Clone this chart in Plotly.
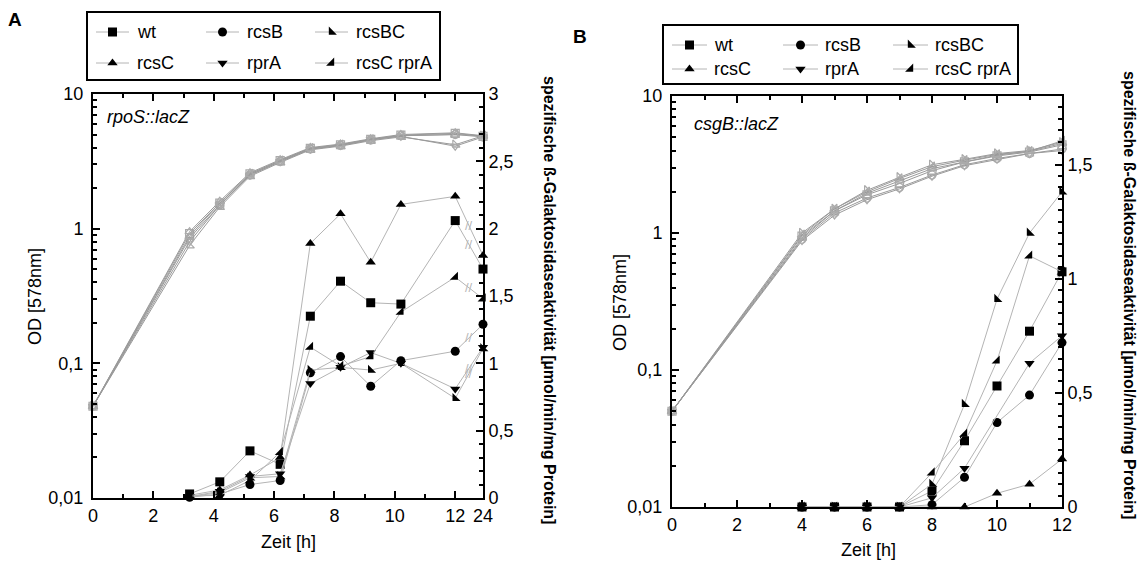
import plotly.graph_objects as go

FONT = "Liberation Sans, Arial, sans-serif"

strains = ["wt", "rcsB", "rcsBC", "rcsC", "rprA", "rcsC rprA"]
symbols_filled = ["square", "circle", "triangle-sw", "triangle-up", "triangle-down", "triangle-se"]
symbols_open = ["square-open", "circle-open", "triangle-sw-open", "triangle-up-open", "triangle-down-open", "triangle-se-open"]

# ---------------- Panel A (rpoS::lacZ) ----------------
A_od_time = [0, 3.2, 4.2, 5.2, 6.2, 7.2, 8.2, 9.2, 10.2, 12, 24]
A_od_wt = [0.048, 0.92, 1.55, 2.55, 3.2, 3.95, 4.2, 4.6, 4.95, 5.1, 4.85]
A_od_rcsB = [0.048, 0.85, 1.5, 2.5, 3.15, 3.9, 4.15, 4.55, 4.9, 5.0, 4.8]
A_od_rcsBC = [0.048, 0.75, 1.45, 2.45, 3.1, 3.85, 4.1, 4.5, 4.8, 4.2, 4.9]
A_od_rcsC = [0.048, 0.95, 1.6, 2.6, 3.25, 4.0, 4.25, 4.65, 5.0, 5.15, 4.9]
A_od_rprA = [0.048, 0.8, 1.5, 2.5, 3.15, 3.9, 4.15, 4.6, 4.85, 4.1, 4.8]
A_od_rcsCrprA = [0.048, 0.88, 1.55, 2.55, 3.2, 3.95, 4.2, 4.6, 4.9, 5.0, 4.9]

A_act_time = [3.2, 4.2, 5.2, 6.2, 7.2, 8.2, 9.2, 10.2, 12, 24]
A_act_wt = [0.03, 0.12, 0.35, 0.25, 1.35, 1.61, 1.45, 1.44, 2.06, 1.70]
A_act_rcsB = [0.005, 0.03, 0.10, 0.13, 0.93, 1.05, 0.83, 1.02, 1.09, 1.29]
A_act_rcsBC = [0.01, 0.04, 0.15, 0.16, 0.95, 0.97, 0.95, 1.0, 0.74, 1.11]
A_act_rcsC = [0.02, 0.06, 0.17, 0.30, 1.89, 2.11, 1.75, 2.18, 2.24, 1.80]
A_act_rprA = [0.01, 0.05, 0.16, 0.18, 0.85, 0.97, 1.08, 1.0, 0.81, 1.12]
A_act_rcsCrprA = [0.015, 0.02, 0.13, 0.34, 1.12, 0.98, 1.05, 1.38, 1.64, 1.48]

# ---------------- Panel B (csgB::lacZ) ----------------
B_od_time = [0, 4, 5, 6, 7, 8, 9, 10, 11, 12]
B_od_wt = [0.05, 0.95, 1.45, 1.9, 2.3, 2.85, 3.3, 3.65, 3.9, 4.4]
B_od_rcsB = [0.05, 0.9, 1.4, 1.8, 2.15, 2.65, 3.15, 3.5, 3.8, 4.1]
B_od_rcsBC = [0.05, 1.0, 1.5, 2.05, 2.55, 3.15, 3.45, 3.8, 4.0, 4.6]
B_od_rcsC = [0.05, 0.92, 1.45, 1.95, 2.4, 2.95, 3.3, 3.7, 3.95, 4.5]
B_od_rprA = [0.05, 0.88, 1.35, 1.75, 2.1, 2.6, 3.1, 3.45, 3.8, 4.0]
B_od_rcsCrprA = [0.05, 0.97, 1.5, 2.0, 2.5, 3.05, 3.4, 3.75, 3.95, 4.7]

B_act_time = [4, 5, 6, 7, 8, 9, 10, 11, 12]
B_act_wt = [0, 0, 0, 0, 0.07, 0.29, 0.53, 0.77, 1.03]
B_act_rcsB = [0, 0, 0, 0, 0.01, 0.13, 0.37, 0.49, 0.72]
B_act_rcsBC = [0, 0, 0, 0, 0.10, 0.45, 0.91, 1.20, 1.38]
B_act_rcsC = [0, 0, 0, 0, 0, 0, 0.06, 0.10, 0.21]
B_act_rprA = [0, 0, 0, 0, 0.04, 0.17, None, 0.63, 0.75]
B_act_rcsCrprA = [0, 0, 0, 0, 0.15, 0.32, 0.64, 1.10, 1.03]

x_ticks_main = [0, 2, 4, 6, 8, 10, 12]
A_break_tick = 24
log_tickvals = [0.01, 0.1, 1, 10]
log_ticktext = ["0,01", "0,1", "1", "10"]
A_right_ticks = [0, 0.5, 1, 1.5, 2, 2.5, 3]
B_right_ticks = [0, 0.5, 1, 1.5]

# axis break: hours after 12 are compressed (12 -> 24 drawn as a short segment)
BREAK_SPAN = 0.92


def bx(t):
    return t if t <= 12 else 12 + BREAK_SPAN * (t - 12) / (A_break_tick - 12)


def fmt(v):
    return ("%g" % v).replace(".", ",")


A_od = [A_od_wt, A_od_rcsB, A_od_rcsBC, A_od_rcsC, A_od_rprA, A_od_rcsCrprA]
A_act = [A_act_wt, A_act_rcsB, A_act_rcsBC, A_act_rcsC, A_act_rprA, A_act_rcsCrprA]
B_od = [B_od_wt, B_od_rcsB, B_od_rcsBC, B_od_rcsC, B_od_rprA, B_od_rcsCrprA]
B_act = [B_act_wt, B_act_rcsB, B_act_rcsBC, B_act_rcsC, B_act_rprA, B_act_rcsCrprA]

W, H = 1140, 568
fig = go.Figure()

OD_LINE = "#9a9a9a"
OD_MARK = "#aaaaaa"
ACT_LINE = "#b4b4b4"


def add_panel(xa, ya_od, ya_act, od_t, od_vals, act_t, act_vals, xmap):
    for i, s in enumerate(strains):
        fig.add_trace(go.Scatter(
            x=[xmap(t) for t in od_t], y=od_vals[i], xaxis=xa, yaxis=ya_od,
            mode="lines+markers", line=dict(color=OD_LINE, width=1),
            marker=dict(symbol=symbols_open[i], size=8, color=OD_MARK, line=dict(width=1.2, color=OD_MARK)),
            showlegend=False, cliponaxis=False, hoverinfo="skip"))
    for i, s in enumerate(strains):
        fig.add_trace(go.Scatter(
            x=[xmap(t) for t in act_t], y=act_vals[i], xaxis=xa, yaxis=ya_act,
            mode="lines+markers", line=dict(color=ACT_LINE, width=1),
            marker=dict(symbol=symbols_filled[i], size=9, color="black"),
            connectgaps=True, name=s, showlegend=False, cliponaxis=False))


add_panel("x", "y", "y2", A_od_time, A_od, A_act_time, A_act, bx)
add_panel("x2", "y3", "y4", B_od_time, B_od, B_act_time, B_act, lambda t: t)

shapes = []
ann = []

# break marks "//" on the 12 h -> 24 h segments of panel A
for vals in A_act:
    v12 = vals[A_act_time.index(12)]
    v24 = vals[A_act_time.index(24)]
    ann.append(dict(text="//", x=(bx(12) + bx(24)) / 2, y=(v12 + v24) / 2, xref="x", yref="y2",
                    xanchor="center", yanchor="middle",
                    showarrow=False, font=dict(family=FONT, size=13, color="#b8b8b8")))

# ---------------- legends (drawn in a pixel-space overlay axis) ----------------
LEG_A = dict(box=(87, 12, 440, 80), col_x=[96, 206, 315], line_len=33, row_y=[32, 63], gap=6)
LEG_B = dict(box=(663, 25, 1018, 84), col_x=[672, 783, 893], line_len=35, row_y=[45, 69], gap=5)

for leg in (LEG_A, LEG_B):
    l, t, r, b = leg["box"]
    shapes.append(dict(type="rect", xref="paper", yref="paper", x0=l / W, x1=r / W,
                       y0=1 - b / H, y1=1 - t / H, line=dict(color="black", width=2),
                       fillcolor="rgba(0,0,0,0)", layer="above"))
    for i, s in enumerate(strains):
        cx = leg["col_x"][i % 3]
        cy = leg["row_y"][i // 3]
        fig.add_trace(go.Scatter(x=[cx, cx + leg["line_len"]], y=[cy, cy], xaxis="x3", yaxis="y5",
                                 mode="lines", line=dict(color=ACT_LINE, width=1),
                                 showlegend=False, hoverinfo="skip"))
        fig.add_trace(go.Scatter(x=[cx + leg["line_len"] / 2], y=[cy], xaxis="x3", yaxis="y5",
                                 mode="markers", marker=dict(symbol=symbols_filled[i], size=9, color="black"),
                                 showlegend=False, hoverinfo="skip"))
        ann.append(dict(text=s, x=(cx + leg["line_len"] + leg["gap"]) / W, y=1 - cy / H,
                        xref="paper", yref="paper", xanchor="left", yanchor="middle",
                        showarrow=False, font=dict(family=FONT, size=18)))


def px_x(p):
    return p / W


def px_y(p):
    return 1 - p / H


tickfont = dict(family=FONT, size=18, color="black")
log_minor = [m * 10 ** e for e in (-2, -1, 0) for m in range(2, 10)]
tick_style = dict(ticks="inside", ticklen=7, tickwidth=2, tickcolor="black", tickfont=tickfont)
minor_style = dict(ticks="inside", ticklen=4, tickwidth=2, tickcolor="black")
line_style = dict(showgrid=False, zeroline=False, showline=True, linecolor="black", linewidth=2)

A_xvals = x_ticks_main + [bx(A_break_tick)]
A_xtext = [str(v) for v in x_ticks_main] + [str(A_break_tick)]
odd_hours = [1, 3, 5, 7, 9, 11]

fig.update_layout(
    width=W, height=H, margin=dict(l=0, r=0, t=0, b=0, autoexpand=False),
    paper_bgcolor="white", plot_bgcolor="rgba(0,0,0,0)", showlegend=False,
    font=dict(family=FONT, color="black"),
    xaxis=dict(domain=[px_x(93), px_x(483)], range=[0, bx(A_break_tick)], anchor="y", mirror="ticks",
               tickmode="array", tickvals=A_xvals, ticktext=A_xtext,
               minor=dict(tickmode="array", tickvals=odd_hours, **minor_style),
               **line_style, **tick_style),
    yaxis=dict(domain=[px_y(498), px_y(94)], type="log", range=[-2, 1], anchor="x",
               tickmode="array", tickvals=log_tickvals, ticktext=log_ticktext, ticklabelstandoff=4,
               minor=dict(tickmode="array", tickvals=log_minor, **minor_style),
               **line_style, **tick_style),
    yaxis2=dict(overlaying="y", side="right", anchor="x", range=[0, 3],
                tickmode="array", tickvals=A_right_ticks, ticktext=[fmt(v) for v in A_right_ticks],
                minor=dict(dtick=0.1, tick0=0, **minor_style),
                **line_style, **tick_style),
    xaxis2=dict(domain=[px_x(672), px_x(1062)], range=[0, 12], anchor="y3", mirror="ticks",
                tickmode="array", tickvals=x_ticks_main, ticktext=[str(v) for v in x_ticks_main],
                minor=dict(tickmode="array", tickvals=odd_hours, **minor_style),
                **line_style, **tick_style),
    yaxis3=dict(domain=[px_y(507), px_y(96)], type="log", range=[-2, 1], anchor="x2",
                tickmode="array", tickvals=log_tickvals, ticktext=log_ticktext, ticklabelstandoff=4,
                minor=dict(tickmode="array", tickvals=log_minor, **minor_style),
                **line_style, **tick_style),
    yaxis4=dict(overlaying="y3", side="right", anchor="x2", range=[0, 1.8],
                tickmode="array", tickvals=B_right_ticks, ticktext=[fmt(v) for v in B_right_ticks],
                minor=dict(dtick=0.05, tick0=0, **minor_style),
                **line_style, **tick_style),
    xaxis3=dict(domain=[0, 1], range=[0, W], visible=False, anchor="y5", fixedrange=True),
    yaxis5=dict(domain=[0, 1], range=[H, 0], visible=False, anchor="x3", fixedrange=True),
)


def label(text, xc, yc, size, angle=0, xanchor="center"):
    ann.append(dict(text=text, x=px_x(xc), y=px_y(yc), xref="paper", yref="paper",
                    xanchor=xanchor, yanchor="middle", textangle=angle,
                    showarrow=False, font=dict(family=FONT, size=size, color="black")))


label("<b>A</b>", 15, 20, 19)
label("<b>B</b>", 580, 36, 19)
label("<i>rpoS::lacZ</i>", 105, 117, 18, xanchor="left")
label("<i>csgB::lacZ</i>", 692, 124, 18, xanchor="left")
label("OD [578nm]", 35, 297, 18, angle=-90)
label("OD [578nm]", 620, 303, 18, angle=-90)
label("Zeit [h]", 288, 542, 18)
label("Zeit [h]", 868, 550, 18)
rt = "<b>spezifische ß-Galaktosidaseaktivität [µmol/min/mg Protein]</b>"
label(rt, 550, 300, 16, angle=90)
label(rt, 1130, 295, 16, angle=90)

fig.update_layout(annotations=ann, shapes=shapes)

# remove the browser's default 8px page margin so the figure sits at the page origin
fig.write_html("out.html", config={"displayModeBar": False},
               post_script="document.body.style.margin='0';")
